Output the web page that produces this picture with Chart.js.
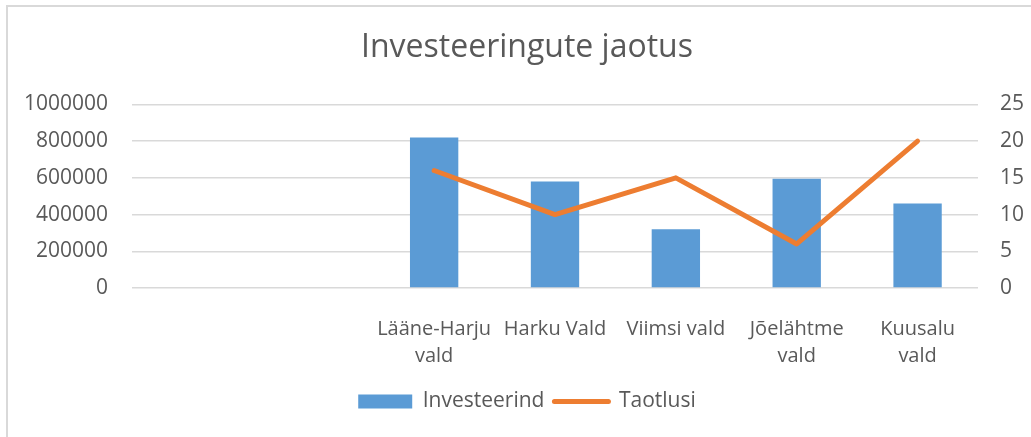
<!DOCTYPE html>
<html>
<head>
<meta charset="utf-8">
<script src="https://cdn.jsdelivr.net/npm/chart.js@4/dist/chart.umd.min.js"></script>
<style>
  html, body { margin: 0; padding: 0; background: #fff; overflow: hidden; }
  #frame { position: absolute; left: 6px; top: 5px; width: 1100px; height: 500px; border: 2px solid #d9d9d9; }
  #investChart { position: absolute; left: 0; top: 0; }
</style>
</head>
<body>
<div id="frame"></div>
<canvas id="investChart" width="1054" height="437"></canvas>
<script>
const labels = ['', '', ['Lääne-Harju', 'vald'], 'Harku Vald', 'Viimsi vald', ['Jõelähtme', 'vald'], ['Kuusalu', 'vald']];
const investeerind = [null, null, 820000, 580000, 320000, 595000, 460000];
const taotlusi = [null, null, 16, 10, 15, 6, 20];

const textColor = '#595959';
const gridColor = '#d9d9d9';
Chart.defaults.font.family = '"Open Sans", sans-serif';
Chart.defaults.color = textColor;

let ctx = document.getElementById('investChart');
window.investChart = new Chart(ctx, {
    type: 'bar',
    data: {
        labels: labels,
        datasets: [{
            label: 'Investeerind',
            data: investeerind,
            backgroundColor: '#5B9BD5',
            borderWidth: 0,
            barPercentage: 0.4,
            categoryPercentage: 1,
            yAxisID: 'y',
            order: 1
        }, {
            type: 'line',
            label: 'Taotlusi',
            data: taotlusi,
            borderColor: '#ED7D31',
            backgroundColor: '#ED7D31',
            borderWidth: 5,
            borderCapStyle: 'round',
            borderJoinStyle: 'round',
            pointRadius: 0,
            tension: 0,
            yAxisID: 'y1',
            order: 0
        }]
    },
    options: {
        responsive: false,
        animation: false,
        layout: { padding: { left: 0, right: 0, top: 0, bottom: 15 } },
        scales: {
            x: {
                grid: { display: false },
                border: { display: false },
                ticks: {
                    font: { size: 20, lineHeight: 1.33 },
                    padding: 20,
                    maxRotation: 0,
                    autoSkip: false
                },
                afterFit: (scale) => { scale.height = 93; }
            },
            y: {
                position: 'left',
                min: 0,
                max: 1000000,
                border: { display: false },
                grid: { color: gridColor, lineWidth: 1.5, drawTicks: false },
                ticks: {
                    stepSize: 200000,
                    padding: 24,
                    font: { size: 21 },
                    callback: (v) => String(v)
                },
                afterFit: (scale) => { scale.width = 132; }
            },
            y1: {
                position: 'right',
                min: 0,
                max: 25,
                border: { display: false },
                grid: { drawOnChartArea: false, drawTicks: false },
                ticks: { stepSize: 5, padding: 22, font: { size: 21 } },
                afterFit: (scale) => { scale.width = 76; }
            }
        },
        plugins: {
            title: {
                display: true,
                text: 'Investeeringute jaotus',
                color: textColor,
                font: { size: 32, weight: 'normal' },
                padding: { top: 29, bottom: 37 }
            },
            legend: {
                display: true,
                position: 'bottom',
                labels: {
                    color: textColor,
                    font: { size: 21 },
                    usePointStyle: true,
                    pointStyleWidth: 54,
                    boxHeight: 14,
                    padding: 10,
                    generateLabels: (chart) => chart.data.datasets.map((ds, i) => ({
                        text: ds.label,
                        fillStyle: ds.type === 'line' ? ds.borderColor : ds.backgroundColor,
                        strokeStyle: ds.type === 'line' ? ds.borderColor : ds.backgroundColor,
                        lineWidth: ds.type === 'line' ? 5 : 0,
                        lineCap: 'round',
                        pointStyle: ds.type === 'line' ? 'line' : 'rect',
                        fontColor: textColor,
                        hidden: false,
                        datasetIndex: i
                    }))
                }
            },
            tooltip: { enabled: false }
        }
    }
});
</script>
</body>
</html>
